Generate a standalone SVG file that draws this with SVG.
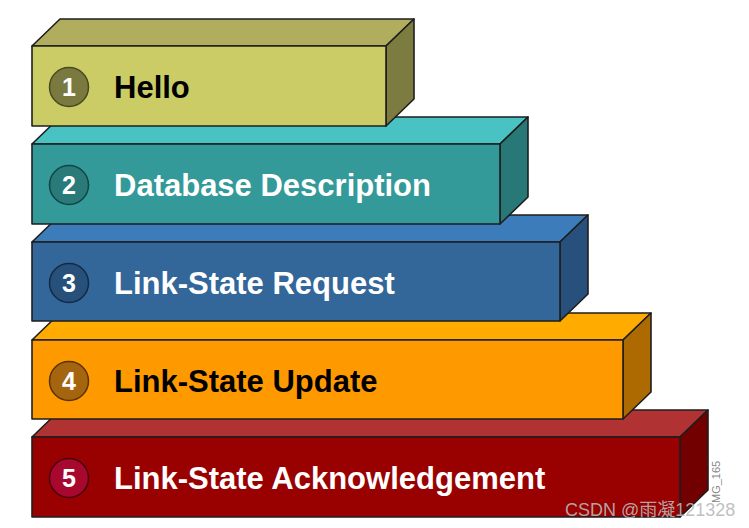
<svg xmlns="http://www.w3.org/2000/svg" width="749" height="528" viewBox="0 0 749 528">
<style>
.edge{stroke:#1e1e1e;stroke-width:1.6;stroke-linejoin:round}
.lbl{font-family:"Liberation Sans",Arial,sans-serif;font-weight:bold;font-size:31px}
.num{font-family:"Liberation Sans",Arial,sans-serif;font-weight:bold;font-size:25px;fill:#fff;text-anchor:middle}
.circ{stroke-width:1.5}
</style>
<rect width="749" height="528" fill="#fff"/>
<g id="step5">
<polygon class="edge" points="32,437 60,410 708,410 680,437" fill="#b03232"/>
<polygon class="edge" points="680,437 708,410 708,490 680,517" fill="#720000"/>
<rect class="edge" x="32" y="437" width="648" height="80" fill="#990000"/>
<circle class="circ" cx="69" cy="478" r="19.5" fill="#a8082e" stroke="#4a0010"/>
<text class="num" x="69" y="487">5</text>
<text class="lbl" x="114" y="489" fill="#fff">Link-State Acknowledgement</text>
</g>
<g id="step4">
<polygon class="edge" points="32,340 60,313 651,313 623,340" fill="#ffab00"/>
<polygon class="edge" points="623,340 651,313 651,392 623,419" fill="#ad6a00"/>
<rect class="edge" x="32" y="340" width="591" height="79" fill="#ff9900"/>
<circle class="circ" cx="69" cy="381" r="19.5" fill="#a5650e" stroke="#5a3300"/>
<text class="num" x="69" y="390">4</text>
<text class="lbl" x="114" y="392" fill="#000">Link-State Update</text>
</g>
<g id="step3">
<polygon class="edge" points="32,242 60,215 588,215 560,242" fill="#3d7cbb"/>
<polygon class="edge" points="560,242 588,215 588,294 560,321" fill="#27517c"/>
<rect class="edge" x="32" y="242" width="528" height="79" fill="#336699"/>
<circle class="circ" cx="69" cy="283" r="19.5" fill="#27507a" stroke="#132a45"/>
<text class="num" x="69" y="292">3</text>
<text class="lbl" x="114" y="294" fill="#fff">Link-State Request</text>
</g>
<g id="step2">
<polygon class="edge" points="32,144 60,117 528,117 500,144" fill="#48c2c2"/>
<polygon class="edge" points="500,144 528,117 528,197 500,224" fill="#287878"/>
<rect class="edge" x="32" y="144" width="468" height="80" fill="#339999"/>
<circle class="circ" cx="69" cy="185" r="19.5" fill="#2a7a7a" stroke="#114545"/>
<text class="num" x="69" y="194">2</text>
<text class="lbl" x="114" y="196" fill="#fff">Database Description</text>
</g>
<g id="step1">
<polygon class="edge" points="32,46 60,19 414,19 386,46" fill="#b0ae5e"/>
<polygon class="edge" points="386,46 414,19 414,99 386,126" fill="#7c7c40"/>
<rect class="edge" x="32" y="46" width="354" height="80" fill="#cccc66"/>
<circle class="circ" cx="69" cy="87" r="19.5" fill="#7a7a40" stroke="#4a4a22"/>
<text class="num" x="69" y="96">1</text>
<text class="lbl" x="114" y="98" fill="#000">Hello</text>
</g>
<text x="0" y="0" transform="translate(720,503) rotate(-90)" font-family="Liberation Sans,Arial,sans-serif" font-size="11" fill="#888">MG_165</text>
<text x="565" y="516" font-family="Liberation Sans,Arial,'Noto Sans CJK SC',sans-serif" font-size="18" fill="#b8b8b8" fill-opacity="0.9">CSDN @雨凝121328</text>
</svg>
